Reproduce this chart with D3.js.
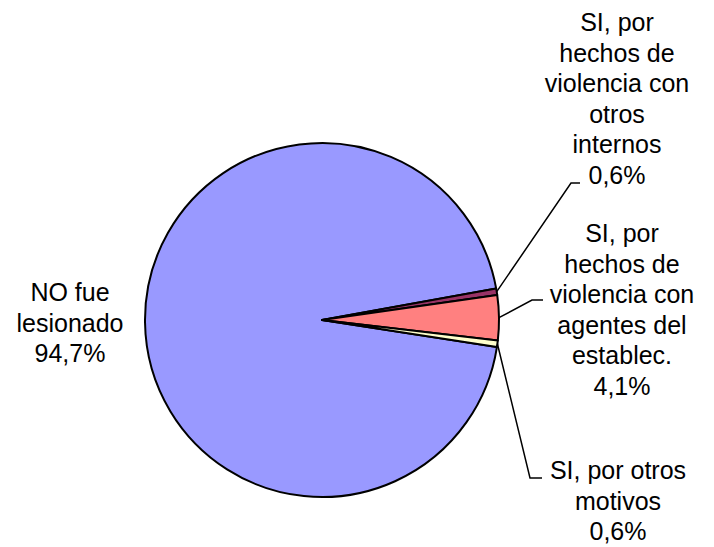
<!DOCTYPE html>
<html>
<head>
<meta charset="utf-8">
<script src="https://cdn.jsdelivr.net/npm/d3@7"></script>
<style>
  body { margin: 0; background: #fff; }
  text { font-family: "Liberation Sans", Arial, sans-serif; font-size: 25px; fill: #000; }
</style>
</head>
<body>
<svg id="svgPie" width="714" height="547"></svg>
<script>
// datos
var categorias = ["NO fue lesionado",
                  "SI, por hechos de violencia con otros internos",
                  "SI, por hechos de violencia con agentes del establec.",
                  "SI, por otros motivos"];
var porcentajes = [94.7, 0.6, 4.1, 0.6];
var etiquetas = [
    ["NO fue", "lesionado", "94,7%"],
    ["SI, por", "hechos de", "violencia con", "otros", "internos", "0,6%"],
    ["SI, por", "hechos de", "violencia con", "agentes del", "establec.", "4,1%"],
    ["SI, por otros", "motivos", "0,6%"]
];
var colores = ["#9999FF", "#993366", "#FF8080", "#FFFFCC"];

var svg = d3.select("#svgPie"),
    cx = 322, cy = 320, radius = 177,
    lineH = 30.5;

var g = svg.append("g")
    .attr("transform", "translate(" + cx + "," + cy + ")");

var inicio = 98.8 * Math.PI / 180;
var pie = d3.pie()
    .sort(null)
    .startAngle(inicio)
    .endAngle(inicio + 2 * Math.PI)
    .value(function(d) { return d; });

var arc = d3.arc().innerRadius(0).outerRadius(radius);

var arcs = pie(porcentajes);

g.selectAll(".slice")
 .data(arcs)
 .enter().append("path")
 .attr("class", "slice")
 .attr("d", arc)
 .attr("fill", function(d, i) { return colores[i]; })
 .attr("stroke", "#000")
 .attr("stroke-width", 2)
 .attr("stroke-linejoin", "round");

// posicion de etiquetas (centro x, primera linea base y) y lineas guia
var layout = [
    { x: 70,  y: 301, guia: null },
    { x: 617, y: 31,  guia: [[571, 183], [580, 183]] },
    { x: 622, y: 242, guia: [[532, 300], [543, 300]] },
    { x: 618, y: 479, guia: [[530, 478], [542, 478]] }
];

arcs.forEach(function(d, i) {
    var l = layout[i];
    if (l.guia) {
        var a = (d.startAngle + d.endAngle) / 2;
        var p0 = [cx + radius * Math.sin(a), cy - radius * Math.cos(a)];
        svg.append("path")
           .attr("d", d3.line()([p0].concat(l.guia)))
           .attr("fill", "none")
           .attr("stroke", "#000")
           .attr("stroke-width", 1.5);
    }
    var t = svg.append("text")
        .attr("text-anchor", "middle");
    etiquetas[i].forEach(function(s, k) {
        t.append("tspan")
         .attr("x", l.x)
         .attr("y", l.y + k * lineH)
         .text(s);
    });
});
</script>
</body>
</html>
